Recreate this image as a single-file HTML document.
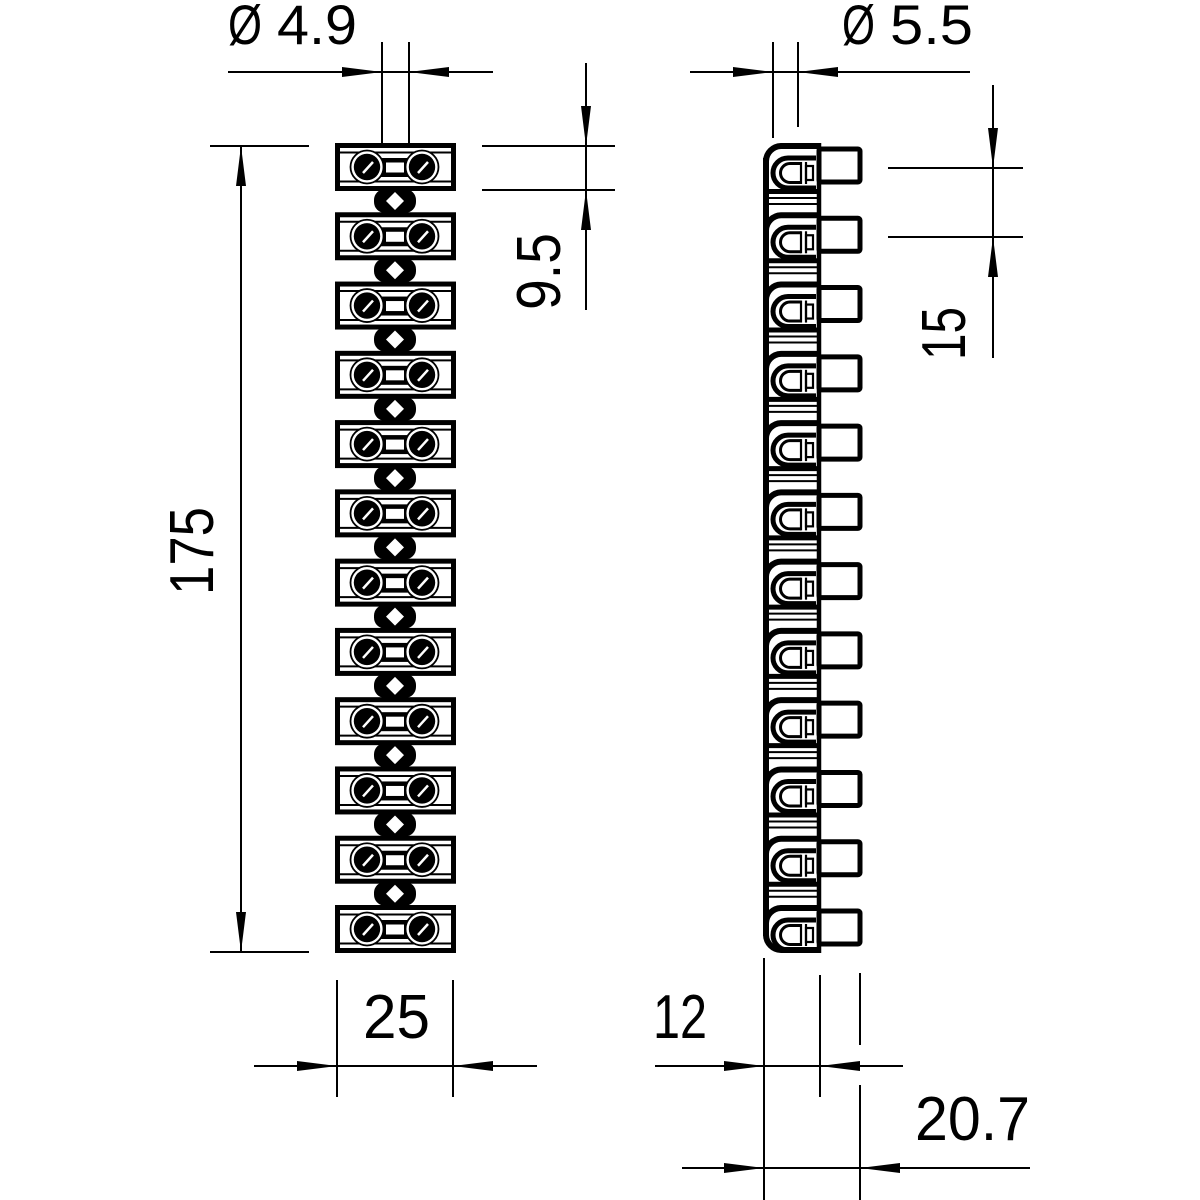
<!DOCTYPE html>
<html><head><meta charset="utf-8"><style>
html,body{margin:0;padding:0;background:#fff;}
svg{display:block;}
text{font-family:"Liberation Sans",sans-serif;fill:#000;}
</style></head><body>
<svg width="1200" height="1200" viewBox="0 0 1200 1200" xmlns="http://www.w3.org/2000/svg">
<defs>
  <g id="chain">
    <rect x="374" y="46" width="42" height="24" rx="11" fill="#000"/>
    <polygon points="395,49 404,58 395,67 386,58" fill="#fff"/>
  </g>
  <g id="blk">
    <rect x="337.5" y="2.5" width="116" height="43" fill="#fff" stroke="#000" stroke-width="5"/>
    <line x1="340" y1="9.5" x2="451" y2="9.5" stroke="#000" stroke-width="2"/>
    <line x1="340" y1="38.5" x2="451" y2="38.5" stroke="#000" stroke-width="2"/>
    <rect x="380" y="15" width="30" height="19" fill="#000"/>
    <circle cx="367" cy="24" r="16.5" fill="#fff" stroke="#000" stroke-width="1.8"/>
    <circle cx="367" cy="24" r="13.2" fill="#000"/>
    <line x1="363" y1="30" x2="373" y2="19" stroke="#fff" stroke-width="2.5"/>
    <circle cx="422" cy="24" r="16.5" fill="#fff" stroke="#000" stroke-width="1.8"/>
    <circle cx="422" cy="24" r="13.2" fill="#000"/>
    <line x1="418" y1="30" x2="428" y2="19" stroke="#fff" stroke-width="2.5"/>
    <rect x="386" y="19.5" width="18" height="10" fill="#fff"/>
  </g>
  <g id="seg" fill="none" stroke="#000">
    <path d="M766,18 A15.5,15.5 0 0 1 781,3 H819" stroke-width="6"/>
    <rect x="819" y="6" width="41" height="33" rx="2" fill="#fff" stroke-width="5"/>
    <path d="M816,15 H788 A15,15 0 0 0 788,45 H816" stroke-width="5"/>
    <path d="M801,20.5 H790 A9.5,9.5 0 0 0 790,39.5 H801" stroke-width="3"/>
    <line x1="801" y1="19" x2="801" y2="41" stroke-width="2.2"/>
    <line x1="806" y1="19" x2="806" y2="41" stroke-width="2.2"/>
    <rect x="806" y="23" width="7" height="14" stroke-width="2.2"/>
  </g>
  <g id="segmid" fill="none" stroke="#000">
    <line x1="765.5" y1="48.5" x2="819" y2="48.5" stroke-width="5"/>
    <line x1="768" y1="55" x2="817" y2="55" stroke-width="2"/>
    <line x1="768" y1="61" x2="817" y2="61" stroke-width="2"/>
  </g>
</defs>

<!-- LEFT VIEW chains -->
<use href="#chain" transform="translate(0,143)"/>
<use href="#chain" transform="translate(0,212.27)"/>
<use href="#chain" transform="translate(0,281.55)"/>
<use href="#chain" transform="translate(0,350.82)"/>
<use href="#chain" transform="translate(0,420.09)"/>
<use href="#chain" transform="translate(0,489.36)"/>
<use href="#chain" transform="translate(0,558.64)"/>
<use href="#chain" transform="translate(0,627.91)"/>
<use href="#chain" transform="translate(0,697.18)"/>
<use href="#chain" transform="translate(0,766.45)"/>
<use href="#chain" transform="translate(0,835.73)"/>

<!-- LEFT VIEW blocks -->
<use href="#blk" transform="translate(0,143)"/>
<use href="#blk" transform="translate(0,212.27)"/>
<use href="#blk" transform="translate(0,281.55)"/>
<use href="#blk" transform="translate(0,350.82)"/>
<use href="#blk" transform="translate(0,420.09)"/>
<use href="#blk" transform="translate(0,489.36)"/>
<use href="#blk" transform="translate(0,558.64)"/>
<use href="#blk" transform="translate(0,627.91)"/>
<use href="#blk" transform="translate(0,697.18)"/>
<use href="#blk" transform="translate(0,766.45)"/>
<use href="#blk" transform="translate(0,835.73)"/>
<use href="#blk" transform="translate(0,905)"/>

<!-- RIGHT VIEW -->
<line x1="766" y1="158" x2="766" y2="936" stroke="#000" stroke-width="6"/>
<line x1="819" y1="143" x2="819" y2="953" stroke="#000" stroke-width="4.5"/>
<use href="#segmid" transform="translate(0,143)"/>
<use href="#segmid" transform="translate(0,212.27)"/>
<use href="#segmid" transform="translate(0,281.55)"/>
<use href="#segmid" transform="translate(0,350.82)"/>
<use href="#segmid" transform="translate(0,420.09)"/>
<use href="#segmid" transform="translate(0,489.36)"/>
<use href="#segmid" transform="translate(0,558.64)"/>
<use href="#segmid" transform="translate(0,627.91)"/>
<use href="#segmid" transform="translate(0,697.18)"/>
<use href="#segmid" transform="translate(0,766.45)"/>
<use href="#segmid" transform="translate(0,835.73)"/>
<use href="#seg" transform="translate(0,143)"/>
<use href="#seg" transform="translate(0,212.27)"/>
<use href="#seg" transform="translate(0,281.55)"/>
<use href="#seg" transform="translate(0,350.82)"/>
<use href="#seg" transform="translate(0,420.09)"/>
<use href="#seg" transform="translate(0,489.36)"/>
<use href="#seg" transform="translate(0,558.64)"/>
<use href="#seg" transform="translate(0,627.91)"/>
<use href="#seg" transform="translate(0,697.18)"/>
<use href="#seg" transform="translate(0,766.45)"/>
<use href="#seg" transform="translate(0,835.73)"/>
<use href="#seg" transform="translate(0,905)"/>
<path d="M766,935 A15.5,15.5 0 0 0 781,950 H819" fill="none" stroke="#000" stroke-width="6"/>

<!-- DIMENSION LINES -->
<g stroke="#000" stroke-width="2" fill="none">
  <line x1="228" y1="72" x2="493" y2="72"/>
  <line x1="382" y1="42" x2="382" y2="146"/>
  <line x1="409" y1="42" x2="409" y2="146"/>
  <line x1="210" y1="146" x2="309" y2="146"/>
  <line x1="210" y1="952" x2="309" y2="952"/>
  <line x1="241" y1="146" x2="241" y2="952"/>
  <line x1="482" y1="146" x2="615" y2="146"/>
  <line x1="482" y1="190" x2="615" y2="190"/>
  <line x1="586" y1="63" x2="586" y2="310"/>
  <line x1="337" y1="980" x2="337" y2="1097"/>
  <line x1="453" y1="980" x2="453" y2="1097"/>
  <line x1="254" y1="1066" x2="537" y2="1066"/>
  <line x1="690" y1="72" x2="970" y2="72"/>
  <line x1="773" y1="42" x2="773" y2="138"/>
  <line x1="798" y1="42" x2="798" y2="127"/>
  <line x1="888" y1="168" x2="1023" y2="168"/>
  <line x1="888" y1="237" x2="1023" y2="237"/>
  <line x1="993" y1="85" x2="993" y2="358"/>
  <line x1="764" y1="958" x2="764" y2="1200"/>
  <line x1="820" y1="975" x2="820" y2="1097"/>
  <line x1="860" y1="973" x2="860" y2="1045"/>
  <line x1="860" y1="1085" x2="860" y2="1200"/>
  <line x1="655" y1="1066" x2="903" y2="1066"/>
  <line x1="682" y1="1168" x2="1030" y2="1168"/>
</g>

<!-- ARROWHEADS -->
<g fill="#000">
  <polygon points="382,72 342,67 342,77"/>
  <polygon points="409,72 449,67 449,77"/>
  <polygon points="241,146 236,186 246,186"/>
  <polygon points="241,952 236,912 246,912"/>
  <polygon points="586,146 581,106 591,106"/>
  <polygon points="586,190 581,230 591,230"/>
  <polygon points="337,1066 297,1061 297,1071"/>
  <polygon points="453,1066 493,1061 493,1071"/>
  <polygon points="773,72 733,67 733,77"/>
  <polygon points="798,72 838,67 838,77"/>
  <polygon points="993,168 988,128 998,128"/>
  <polygon points="993,237 988,277 998,277"/>
  <polygon points="764,1066 724,1061 724,1071"/>
  <polygon points="820,1066 860,1061 860,1071"/>
  <polygon points="764,1168 724,1163 724,1173"/>
  <polygon points="860,1168 900,1163 900,1173"/>
</g>

<!-- TEXT -->
<text x="228" y="44" font-size="56" textLength="34" lengthAdjust="spacingAndGlyphs">Ø</text>
<text x="277" y="44" font-size="56" textLength="80" lengthAdjust="spacingAndGlyphs">4.9</text>
<text x="842" y="44" font-size="56" textLength="33" lengthAdjust="spacingAndGlyphs">Ø</text>
<text x="890" y="44" font-size="56" textLength="83" lengthAdjust="spacingAndGlyphs">5.5</text>
<text x="363" y="1038" font-size="62" textLength="67" lengthAdjust="spacingAndGlyphs">25</text>
<text x="653" y="1038" font-size="62" textLength="54" lengthAdjust="spacingAndGlyphs">12</text>
<text x="915" y="1140" font-size="62" textLength="115" lengthAdjust="spacingAndGlyphs">20.7</text>
<text transform="translate(213,595) rotate(-90)" x="0" y="0" font-size="62" textLength="88" lengthAdjust="spacingAndGlyphs">175</text>
<text transform="translate(560,310) rotate(-90)" x="0" y="0" font-size="62" textLength="77" lengthAdjust="spacingAndGlyphs">9.5</text>
<text transform="translate(965,360) rotate(-90)" x="0" y="0" font-size="62" textLength="53" lengthAdjust="spacingAndGlyphs">15</text>
</svg>
</body></html>
